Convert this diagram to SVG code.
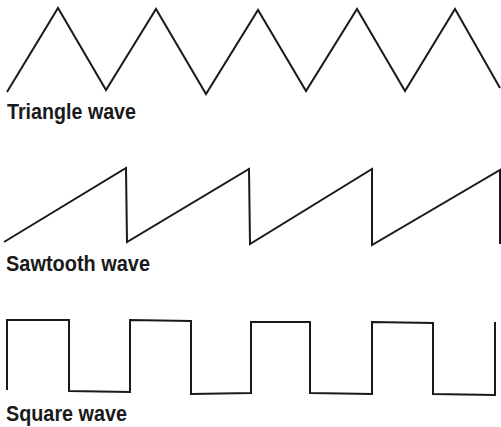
<svg xmlns="http://www.w3.org/2000/svg" width="501" height="427" viewBox="0 0 501 427">
<style>
.w{fill:none;stroke:#1a1a1a;stroke-width:2;stroke-linejoin:miter;stroke-linecap:butt}
.l{font-family:"Liberation Sans",Arial,sans-serif;font-weight:bold;font-size:21.5px;fill:#1a1a1a}
</style>
<rect width="501" height="427" fill="#fff"/>
<g id="triangle">
<polyline class="w" points="7,92 58,8 106,90 156,9 206,94 258,10 306,91 357,9 405,91 455,9 500,88"/>
<text class="l" x="7" y="118.5" textLength="129" lengthAdjust="spacingAndGlyphs">Triangle wave</text>
</g>
<g id="sawtooth">
<polyline class="w" points="4,242 126,168 127,242 249,169 250,244 372,169 372,245 500,170 500,244"/>
<text class="l" x="6" y="271" textLength="144" lengthAdjust="spacingAndGlyphs">Sawtooth wave</text>
</g>
<g id="square">
<polyline class="w" points="7,390 7,320 69,320 69,391 130,392 130,320 191,321 191,394 251,393 251,322 310,322 310,393 372,394 372,322 433,323 433,394 495,395 495,322"/>
<text class="l" x="6" y="421" textLength="121" lengthAdjust="spacingAndGlyphs">Square wave</text>
</g>
</svg>
